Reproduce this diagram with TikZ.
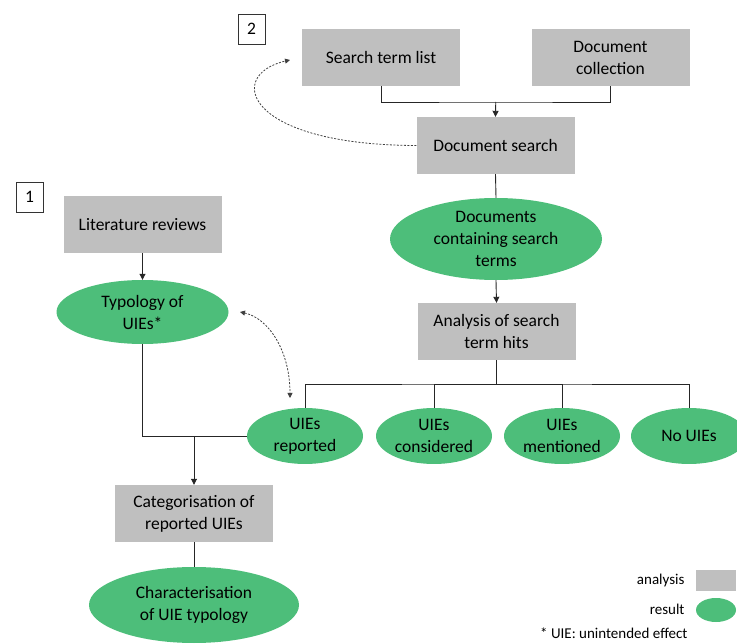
\documentclass[tikz,border=0pt]{standalone}
\usepackage{fontspec}
\setmainfont{Carlito}
\usetikzlibrary{shapes.geometric,arrows.meta}
\definecolor{boxgray}{RGB}{191,191,191}
\definecolor{resgreen}{RGB}{77,190,122}
\begin{document}
\begin{tikzpicture}[x=1pt,y=-1pt,
  every node/.style={font=\fontsize{17.5}{22}\selectfont, align=center, text=black},
  anabox/.style={rectangle, fill=boxgray, minimum width=158pt, minimum height=57pt, inner sep=0},
  resell/.style={ellipse, fill=resgreen, inner sep=0},
  numbox/.style={rectangle, draw=black!80, line width=0.6pt, fill=white, minimum width=27pt, minimum height=30pt, inner sep=0},
  conn/.style={draw=black!85, line width=0.9pt},
  arr/.style={conn, -{Triangle[length=6pt,width=6pt]}},
  dashconn/.style={draw=black!75, line width=0.8pt, dash pattern=on 2pt off 1.5pt},
  legtext/.style={font=\fontsize{15}{18}\selectfont, anchor=east}
]
\useasboundingbox (0,0) rectangle (737,644);
\clip (0,0) rectangle (737,644);

% part 2
\node[numbox] (n2) at (251.5,29) {2};
\node[anabox] (stl) at (381,57.5) {Search term list};
\node[anabox] (dcoll) at (610.5,57.5) {Document\\collection};
\node[anabox] (dsearch) at (495.5,145.5) {Document search};
\node[resell, minimum width=212pt, minimum height=82pt] (docs) at (496,239) {Documents\\containing search\\terms};
\node[anabox] (ana) at (496.5,331.5) {Analysis of search\\term hits};
\node[resell, minimum width=116pt, minimum height=56pt] (rep) at (305,436) {UIEs\\reported};
\node[resell, minimum width=116pt, minimum height=56pt] (con) at (434,436) {UIEs\\considered};
\node[resell, minimum width=116pt, minimum height=56pt] (men) at (562,436) {UIEs\\mentioned};
\node[resell, minimum width=116pt, minimum height=56pt] (nou) at (689,436) {No UIEs};

% part 1
\node[numbox] (n1) at (29.5,197) {1};
\node[anabox] (lit) at (142.5,224.5) {Literature reviews};
\node[resell, minimum width=172pt, minimum height=64pt] (typ) at (142.5,312) {Typology of\\UIEs*};
\node[anabox] (cat) at (194,513.5) {Categorisation of\\reported UIEs};
\node[resell, minimum width=210pt, minimum height=76pt] (char) at (194,605) {Characterisation\\of UIE typology};

% legend
\node[legtext] (la) at (688,581) {analysis};
\node[rectangle, fill=boxgray, minimum width=40pt, minimum height=21pt, inner sep=0] (lbox) at (716,580.5) {};
\node[legtext] (lr) at (688,609) {result};
\node[ellipse, fill=resgreen, minimum width=40pt, minimum height=24pt, inner sep=0] (lell) at (716,610) {};
\node[legtext] (fn) at (691,633) {* UIE: unintended effect};

% connectors
\coordinate (j1) at (495.75,102);
\draw[conn] (stl.south) |- (j1) -| (dcoll.south);
\draw[arr] (j1) -- (dsearch.north);
\draw[conn] (dsearch.south) -- (docs.north);
\draw[arr] (docs.south) -- (ana.north);
\coordinate (j2) at (496.5,384);
\draw[conn] (ana.south) -- (j2);
\draw[conn] (rep.north) |- (j2) -| (nou.north);
\draw[conn] (con.north) |- (j2);
\draw[conn] (men.north) |- (j2);
\draw[arr] (lit.south) -- (typ.north);
\draw[conn] (typ.south) |- (rep.west);
\coordinate (j3) at (194,436);
\draw[arr] (j3) -- (cat.north);
\draw[conn] (cat.south) -- (char.north);

% dashed feedback
\coordinate (dtip1) at (290,60);
\draw[dashconn, -{Triangle[length=5pt,width=5pt]}] (dsearch.west) .. controls (245,145) and (225,75) .. (dtip1);
\coordinate (dt2a) at (240,312);
\coordinate (dt2b) at (290,398);
\draw[dashconn, {Triangle[length=5pt,width=5pt]}-{Triangle[length=5pt,width=5pt]}] (dt2a) .. controls (268,318) and (290,350) .. (dt2b);
\end{tikzpicture}
\end{document}
